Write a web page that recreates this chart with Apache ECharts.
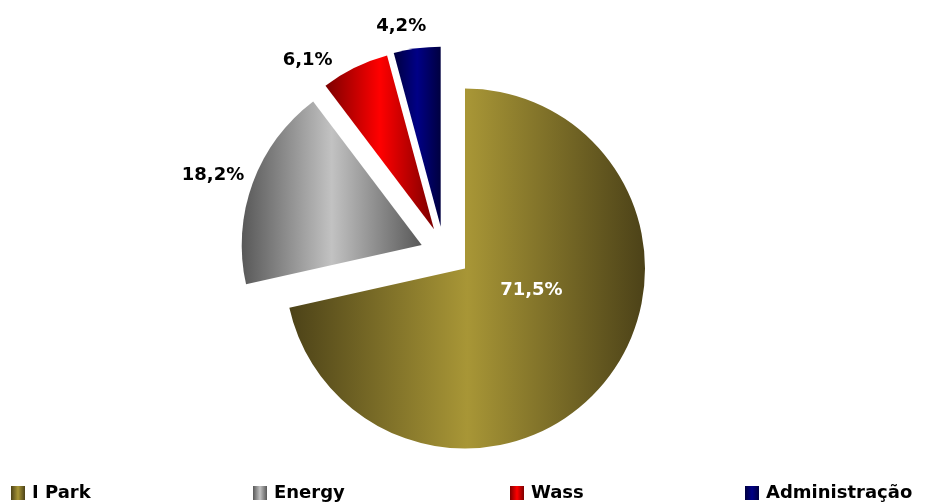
<!DOCTYPE html>
<html>
<head>
<meta charset="utf-8">
<title>Distribuição</title>
<script src="https://cdn.jsdelivr.net/npm/echarts@6/dist/echarts.min.js"></script>
<style>
  html, body { margin: 0; padding: 0; background: #ffffff; }
  #chart { width: 926px; height: 504px; }
</style>
</head>
<body>
<div id="chart"></div>
<script>
// Share of each business unit, in percent
const categories = ['I Park', 'Energy', 'Wass', 'Administração'];
const shares = [71.5, 18.2, 6.1, 4.2];

// Gradient colours per slice: [edge, centre]
const sliceColors = [
  ['#4c4218', '#a89636'],
  ['#585858', '#c2c2c2'],
  ['#7c0000', '#ff0000'],
  ['#000040', '#000086']
];

// Pie geometry (pixels)
const PIE = { cx: 465, cy: 268.5, r: 180 };
// How far each slice is pulled out of the pie
const explode = [[0, 0], [-43.3, -23.5], [-31, -39.2], [-24.3, -41.8]];
// Label distance from the slice tip and angular nudge (degrees)
const labelRadius = [70, 220, 211, 204];
const labelSkew = [-20.3, -1.7, -10.7, -3.6];
const labelColors = ['#ffffff', '#000000', '#000000', '#000000'];
// Legend item left positions
const legendLeft = [11, 253, 510, 745];

const TOTAL = shares.reduce((a, b) => a + b, 0);
const FONT = 'bold 18px "DejaVu Sans", sans-serif';

function gradient(pair) {
  return new echarts.graphic.LinearGradient(0, 0, 1, 0, [
    { offset: 0, color: pair[0] },
    { offset: 0.5, color: pair[1] },
    { offset: 1, color: pair[0] }
  ]);
}

function formatShare(v) {
  return v.toFixed(1).replace('.', ',') + '%';
}

function sliceRenderer(idx) {
  return function (params, api) {
    const value = api.value(0);
    const before = shares.slice(0, idx).reduce((a, b) => a + b, 0);
    const start = -Math.PI / 2 + 2 * Math.PI * before / TOTAL;
    const end = start + 2 * Math.PI * value / TOTAL;
    const cx = PIE.cx + explode[idx][0];
    const cy = PIE.cy + explode[idx][1];
    const mid = (start + end) / 2 + labelSkew[idx] * Math.PI / 180;
    const lr = labelRadius[idx];
    return {
      type: 'group',
      children: [
        {
          type: 'sector',
          shape: { cx: cx, cy: cy, r: PIE.r, r0: 0, startAngle: start, endAngle: end, clockwise: true },
          style: { fill: gradient(sliceColors[idx]) }
        },
        {
          type: 'text',
          x: cx + lr * Math.cos(mid),
          y: cy + lr * Math.sin(mid),
          style: {
            text: formatShare(value),
            fill: labelColors[idx],
            font: FONT,
            align: 'center',
            verticalAlign: 'middle'
          }
        }
      ]
    };
  };
}

const chart = echarts.init(document.getElementById('chart'), null, { renderer: 'canvas' });

chart.setOption({
  backgroundColor: '#ffffff',
  animation: false,
  legend: categories.map((name, i) => ({
    data: [name],
    left: legendLeft[i],
    top: 484,
    padding: 0,
    icon: 'rect',
    itemWidth: 14,
    itemHeight: 14,
    selectedMode: false,
    textStyle: {
      fontFamily: '"DejaVu Sans", sans-serif',
      fontWeight: 'bold',
      fontSize: 18,
      color: '#000000',
      padding: [0, 0, 0, 2]
    }
  })),
  series: categories.map((name, i) => ({
    type: 'custom',
    name: name,
    coordinateSystem: 'none',
    silent: true,
    itemStyle: { color: gradient(sliceColors[i]) },
    renderItem: sliceRenderer(i),
    data: [[shares[i]]]
  }))
});
</script>
</body>
</html>
